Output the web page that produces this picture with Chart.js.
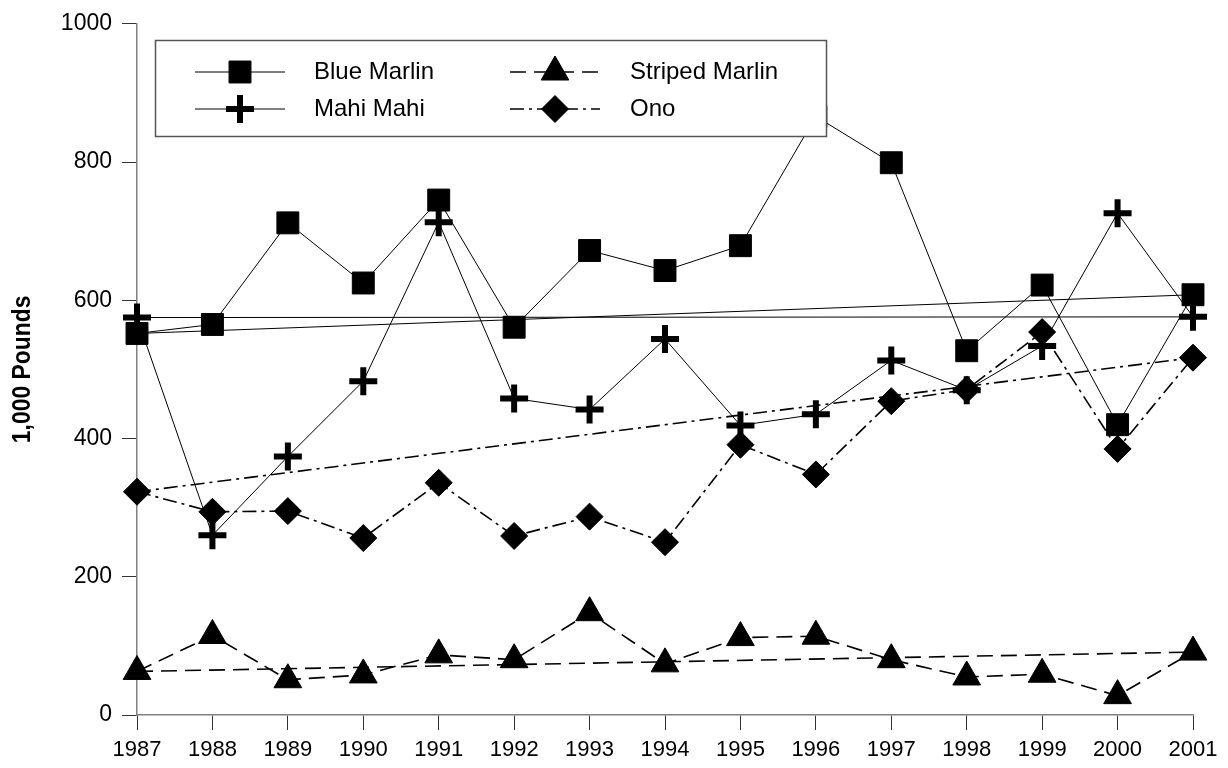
<!DOCTYPE html>
<html>
<head>
<meta charset="utf-8">
<title>Pelagic landings 1987-2001</title>
<script src="https://cdn.jsdelivr.net/npm/chart.js@4.4.1/dist/chart.umd.min.js"></script>
<style>
  html, body { margin: 0; padding: 0; background: #ffffff; }
  #wrap { width: 1228px; height: 768px; }
</style>
</head>
<body>
<div id="wrap"><canvas id="c" width="1228" height="768"></canvas></div>
<script>
// Annual landings, thousands of pounds
const years = ['1987','1988','1989','1990','1991','1992','1993','1994','1995','1996','1997','1998','1999','2000','2001'];
const blueMarlin    = [552, 565, 712, 625, 745, 561, 672, 643, 679, 866, 799, 527, 622, 420, 608];
const mahiMahi      = [575, 260, 374, 483, 713, 458, 442, 544, 419, 435, 513, 470, 534, 726, 576];
const stripedMarlin = [63, 115, 51, 58, 87, 80, 148, 74, 112, 114, 80, 55, 59, 28, 91];
const ono           = [323, 294, 295, 256, 336, 259, 287, 250, 391, 348, 454, 471, 554, 385, 517];
const yTicks = [0, 200, 400, 600, 800, 1000];
const yTitle = '1,000 Pounds';

const FONT = '"Liberation Sans", Arial, Helvetica, sans-serif';

// Straight line joining the first and last year of a series
function endToEnd(values) {
  const n = values.length - 1;
  return [{ x: years[0], y: values[0] }, { x: years[n], y: values[n] }];
}

const seriesStyles = [
  { label: 'Blue Marlin',    data: blueMarlin,    pointStyle: 'rect',     radius: 15.5, pbw: 1, dash: [],            width: 1 },
  { label: 'Striped Marlin', data: stripedMarlin, pointStyle: 'triangle', radius: 16,   pbw: 1, dash: [16, 8],       width: 1.6 },
  { label: 'Mahi Mahi',      data: mahiMahi,      pointStyle: 'cross',    radius: 14,   pbw: 6, dash: [],            width: 1 },
  { label: 'Ono',            data: ono,           pointStyle: 'rectRot',  radius: 13.5, pbw: 1, dash: [14, 5, 3, 5], width: 1.6 }
];

const datasets = [];
seriesStyles.forEach(s => {
  datasets.push({
    label: s.label,
    data: s.data,
    borderColor: '#000',
    backgroundColor: '#000',
    borderWidth: s.width,
    borderDash: s.dash,
    pointStyle: s.pointStyle,
    pointRadius: s.radius,
    pointBorderWidth: s.pbw,
    pointBackgroundColor: '#000',
    pointBorderColor: '#000',
    tension: 0,
    clip: false,
    order: 0
  });
  datasets.push({
    label: s.label + ' trend',
    data: endToEnd(s.data),
    borderColor: '#000',
    borderWidth: s.width,
    borderDash: s.dash,
    pointRadius: 0,
    tension: 0,
    clip: false,
    order: 1
  });
});

// Condensed bold axis title, centred on the plot height
const axisTitle = {
  id: 'axisTitle',
  afterDraw(chart) {
    const ctx = chart.ctx;
    const area = chart.chartArea;
    ctx.save();
    ctx.translate(23, (area.top + area.bottom) / 2);
    ctx.rotate(-Math.PI / 2);
    ctx.scale(0.88, 1);
    ctx.font = 'bold 26px ' + FONT;
    ctx.fillStyle = '#000';
    ctx.textAlign = 'center';
    ctx.textBaseline = 'middle';
    ctx.fillText(yTitle, 0, 0);
    ctx.restore();
  }
};

// Boxed legend drawn over the plot, opaque so lines pass behind it
const boxedLegend = {
  id: 'boxedLegend',
  afterDraw(chart) {
    const ctx = chart.ctx;
    const bx = 155, by = 40, bw = 671, bh = 96;
    ctx.save();
    ctx.fillStyle = '#ffffff';
    ctx.fillRect(bx, by, bw, bh);
    ctx.strokeStyle = '#555555';
    ctx.lineWidth = 1.5;
    ctx.strokeRect(bx + 0.5, by + 0.5, bw, bh);

    const cols = [{ lineX: 195, textX: 314 }, { lineX: 510, textX: 630 }];
    const rows = [72, 109];
    seriesStyles.forEach((s, i) => {
      const col = cols[i % 2];
      const y = rows[Math.floor(i / 2)];
      ctx.strokeStyle = '#000';
      ctx.lineWidth = s.width;
      ctx.setLineDash(s.dash);
      ctx.beginPath();
      ctx.moveTo(col.lineX, y);
      ctx.lineTo(col.lineX + 90, y);
      ctx.stroke();
      ctx.setLineDash([]);
      ctx.fillStyle = '#000';
      ctx.lineWidth = s.pbw;
      Chart.helpers.drawPoint(ctx, { pointStyle: s.pointStyle, radius: s.radius, borderWidth: s.pbw, rotation: 0 }, col.lineX + 45, y);
      ctx.fillStyle = '#000';
      ctx.font = '24px ' + FONT;
      ctx.textBaseline = 'middle';
      ctx.textAlign = 'left';
      ctx.fillText(s.label, col.textX, y);
    });
    ctx.restore();
  }
};

new Chart(document.getElementById('c'), {
  type: 'line',
  data: { labels: years, datasets: datasets },
  options: {
    responsive: false,
    animation: false,
    devicePixelRatio: 1,
    layout: { padding: { top: 18, right: 35, left: 0, bottom: 0 } },
    plugins: { legend: { display: false }, tooltip: { enabled: false } },
    scales: {
      x: {
        type: 'category',
        offset: false,
        grid: { drawOnChartArea: false, drawTicks: true, tickLength: 15, color: '#333' },
        border: { color: '#808080', width: 1.5 },
        ticks: { color: '#000', font: { family: FONT, size: 22 }, padding: 7, maxRotation: 0, autoSkip: false },
        afterFit: s => { s.height = 53; }
      },
      y: {
        min: 0,
        max: 1000,
        afterBuildTicks: s => { s.ticks = yTicks.map(v => ({ value: v })); },
        grid: { drawOnChartArea: false, drawTicks: true, tickLength: 15, color: '#333' },
        border: { color: '#808080', width: 1.5 },
        ticks: { color: '#000', font: { family: FONT, size: 23 }, padding: 10, callback: v => String(v) },
        afterFit: s => { s.width = 137; }
      }
    }
  },
  plugins: [axisTitle, boxedLegend]
});
</script>
</body>
</html>
